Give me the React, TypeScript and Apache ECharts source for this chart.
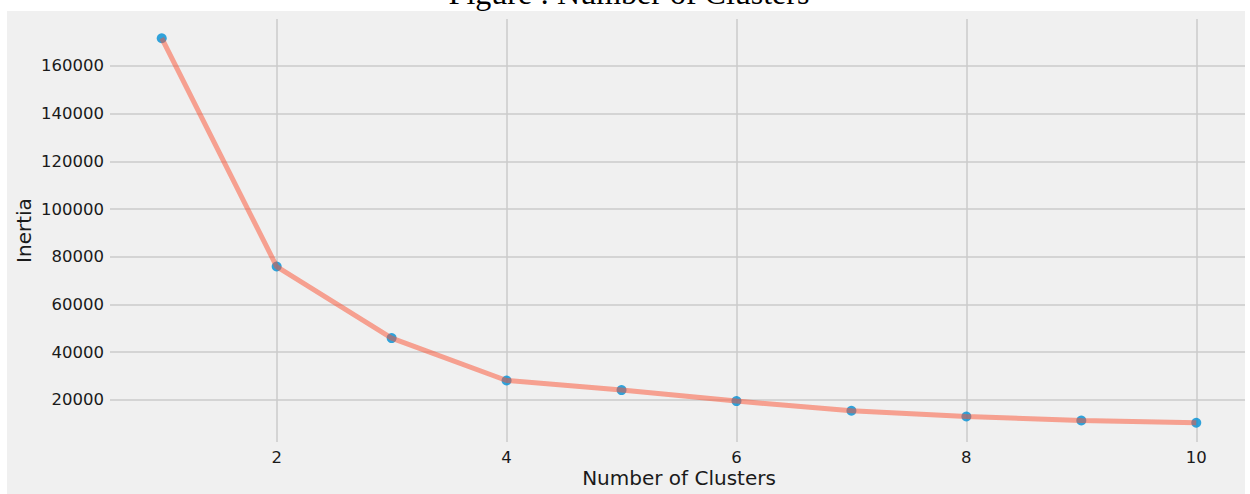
import React, { useEffect, useRef } from "react";
import * as echarts from "echarts";

const clusters = [1, 2, 3, 4, 5, 6, 7, 8, 9, 10];
const inertia = [171620, 75870, 45860, 28090, 24060, 19450, 15390, 13000, 11320, 10350];
const xTicks = [2, 4, 6, 8, 10];
const yTicks = [20000, 40000, 60000, 80000, 100000, 120000, 140000, 160000];
const titleText = "Figure : Number of Clusters";
const xName = "Number of Clusters";
const yName = "Inertia";

export default function App() {
  const ref = useRef<HTMLDivElement>(null);
  useEffect(() => {
    if (!ref.current) return;
    const chart = echarts.init(ref.current, undefined, { renderer: "svg" });
    const pts = clusters.map((c, i) => [c, inertia[i]]);
    const font = "DejaVu Sans";
    chart.setOption({
      animation: false,
      backgroundColor: "#ffffff",
      graphic: [
        {
          type: "rect",
          z: -10,
          silent: true,
          shape: { x: 7, y: 11, width: 1238, height: 483 },
          style: { fill: "#f0f0f0" },
        },
        {
          type: "rect",
          z: 100,
          silent: true,
          shape: { x: 1245, y: 0, width: 5, height: 494 },
          style: { fill: "#ffffff" },
        },
        {
          type: "text",
          x: 629,
          y: 9,
          style: {
            text: titleText,
            font: "32px 'Liberation Serif'",
            fill: "#000",
            align: "center",
            verticalAlign: "bottom",
          },
        },
      ],
      grid: { left: 110, right: 2, top: 19, bottom: 52, containLabel: false },
      xAxis: {
        type: "value",
        min: 0.55,
        max: 10.45,
        name: xName,
        nameLocation: "middle",
        nameGap: 26,
        nameMoveOverlap: false,
        nameTextStyle: { fontFamily: font, fontSize: 20, color: "#1a1a1a" },
        axisLine: { show: false },
        axisTick: { show: false, customValues: xTicks },
        axisLabel: {
          customValues: xTicks,
          formatter: (v: number) => String(v),
          fontFamily: font,
          fontSize: 16.5,
          color: "#1a1a1a",
          margin: 7,
        },
        splitLine: { show: true, lineStyle: { color: "#cbcbcb", width: 1.5 } },
      },
      yAxis: {
        type: "value",
        min: 2290,
        max: 179680,
        name: yName,
        nameLocation: "middle",
        nameRotate: 90,
        nameGap: 76,
        nameMoveOverlap: false,
        nameTextStyle: { fontFamily: font, fontSize: 20, color: "#1a1a1a" },
        axisLine: { show: false },
        axisTick: { show: false, customValues: yTicks },
        axisLabel: {
          customValues: yTicks,
          formatter: (v: number) => String(v),
          fontFamily: font,
          fontSize: 16.5,
          color: "#1a1a1a",
          margin: 6,
        },
        splitLine: { show: true, lineStyle: { color: "#cbcbcb", width: 1.5 } },
      },
      series: [
        {
          type: "scatter",
          data: pts,
          symbolSize: 10,
          itemStyle: { color: "#008fd5" },
          z: 2,
        },
        {
          type: "line",
          data: pts,
          showSymbol: false,
          symbol: "none",
          lineStyle: { color: "#fc4f30", width: 5, opacity: 0.5 },
          z: 3,
        },
      ],
    });
    return () => chart.dispose();
  }, []);
  return (
    <div
      ref={ref}
      style={{ position: "absolute", left: 0, top: 0, width: 1250, height: 494 }}
    />
  );
}
